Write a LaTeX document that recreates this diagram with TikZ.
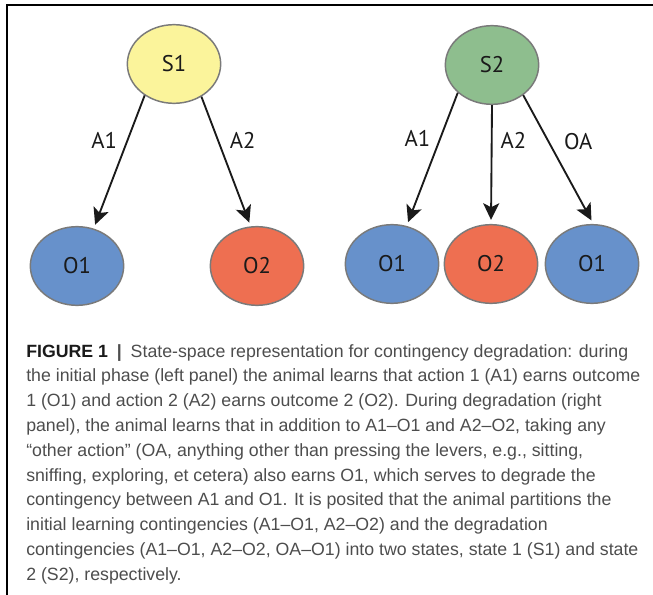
\documentclass[tikz,border=0pt]{standalone}
\usepackage{fontspec}
\setmainfont{Liberation Sans}
\newfontfamily\labfont{PT Sans}
\usetikzlibrary{arrows.meta,positioning,shapes.geometric}
\definecolor{Yellow}{HTML}{FBF49B}
\definecolor{Green}{HTML}{8EBE8E}
\definecolor{Blue}{HTML}{6791CB}
\definecolor{Red}{HTML}{EE6F51}
\definecolor{Rim}{HTML}{7A7A7A}
\definecolor{Ink}{HTML}{1A1A1A}
\definecolor{Capt}{HTML}{4D4D4D}

\begin{document}
\begin{tikzpicture}[x=0.75pt,y=-0.75pt,
  state/.style={ellipse,draw=Rim,line width=1.1pt,minimum width=70pt,minimum height=59pt,inner sep=0pt,text=Ink,font=\labfont\fontsize{17}{20}\selectfont},
  act/.style={-{Stealth[length=12.5pt,width=12pt,inset=3pt]},line width=1.4pt,draw=Ink,shorten >=3pt},
  lab/.style={inner sep=0pt,text=Ink,font=\labfont\fontsize{17}{20}\selectfont}]
  \useasboundingbox (0,0) rectangle (653,595);
  \draw[line width=1.3pt] (7,595) -- (7,5) -- (653,5);
  % left panel: initial learning
  \node[state,fill=Yellow] (s1) at (174,64) {S1};
  \node[state,fill=Blue] (o1a) at (77,266) {O1};
  \node[state,fill=Red] (o2a) at (257,266) {O2};
  \draw[act] (s1.227) -- (o1a.66) node[lab,pos=.34,left=7pt] (a1a) {A1};
  \draw[act] (s1.310) -- (o2a.99) node[lab,pos=.34,right=8pt] (a2a) {A2};
  % right panel: degradation
  \node[state,fill=Green] (s2) at (492,65) {S2};
  \node[state,fill=Blue] (o1b) at (392,264) {O1};
  \node[state,fill=Red] (o2b) at (491,264) {O2};
  \node[state,fill=Blue] (o1c) at (592,264) {O1};
  \draw[act] (s2.219) -- (o1b.69) node[lab,pos=.34,left=7pt] (a1b) {A1};
  \draw[act] (s2.270) -- (o2b.90) node[lab,pos=.30,right=6pt] (a2b) {A2};
  \draw[act] (s2.316) -- (o1c.88) node[lab,pos=.36,right=11pt] (oab) {OA};
  % caption
  \node[anchor=north west,inner sep=0pt,align=left,text=Capt,font=\fontsize{13.3}{18.6}\selectfont] (capt) at (26,344)
  {{\color{Ink}\bfseries FIGURE 1}\enspace{\bfseries|}\enspace State-space representation for contingency degradation: during\\
   the initial phase (left panel) the animal learns that action 1 (A1) earns outcome\\
   1 (O1) and action 2 (A2) earns outcome 2 (O2). During degradation (right\\
   panel), the animal learns that in addition to A1--O1 and A2--O2, taking any\\
   ``other action'' (OA, anything other than pressing the levers, e.g., sitting,\\
   sniffing, exploring, et cetera) also earns O1, which serves to degrade the\\
   contingency between A1 and O1. It is posited that the animal partitions the\\
   initial learning contingencies (A1--O1, A2--O2) and the degradation\\
   contingencies (A1--O1, A2--O2, OA--O1) into two states, state 1 (S1) and state\\
   2 (S2), respectively.};
\end{tikzpicture}
\end{document}
